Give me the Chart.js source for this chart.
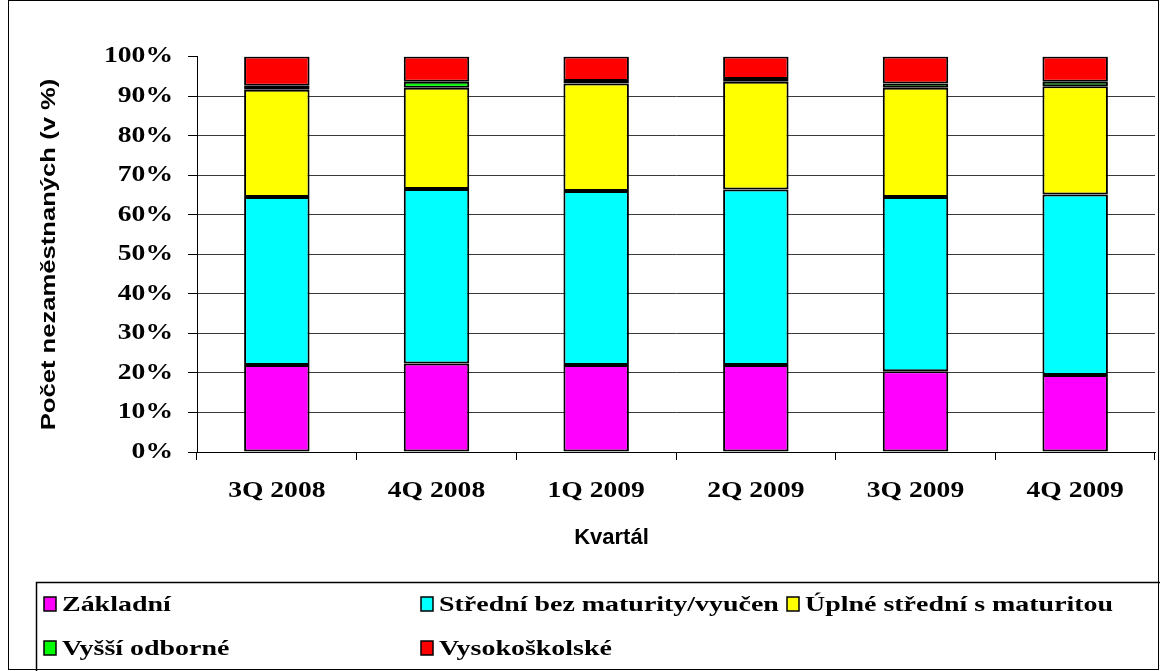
<!DOCTYPE html>
<html><head><meta charset="utf-8">
<script src="https://cdn.jsdelivr.net/npm/chart.js@4.4.1/dist/chart.umd.min.js"></script>
<style>html,body{margin:0;padding:0;background:#fff;overflow:hidden;} #wrap{width:1160px;height:671px;position:relative;}</style>
</head><body><div id="wrap"><canvas id="c" width="1160" height="671"></canvas></div>
<script>
const categories = ['3Q 2008','4Q 2008','1Q 2009','2Q 2009','3Q 2009','4Q 2009'];
const zakladni = [22.0, 22.4, 22.0, 22.0, 20.4, 19.5];
const stredni  = [42.5, 44.1, 44.0, 44.4, 44.1, 45.6];
const uplne    = [27.1, 25.6, 27.2, 27.2, 27.6, 27.4];
const vyssi    = [1.0, 1.5, 0.6, 0.7, 1.1, 1.1];
const vysoko   = [7.4, 6.4, 6.2, 5.7, 6.8, 6.4];
const seriesNames = ['Základní','Střední bez maturity/vyučen','Úplné střední s maturitou','Vyšší odborné','Vysokoškolské'];
const seriesColors = ['#FF00FF','#00FFFF','#FFFF00','#00FF00','#FF0000'];
const yTickValues = [0,10,20,30,40,50,60,70,80,90,100];
const yTitle = 'Počet nezaměstnaných (v %)';
const xTitle = 'Kvartál';

const seriesValues = [zakladni, stredni, uplne, vyssi, vysoko];
const SERIF = "'Liberation Serif','Times New Roman',serif";
const SANS = "'Liberation Sans',Arial,sans-serif";

// horizontal text stretch (the reference renders its text wider than normal)
const canvas = document.getElementById('c');
const ctx2d = canvas.getContext('2d');
let stretch = 1.2;
const origFill = ctx2d.fillText.bind(ctx2d);
const origMeasure = ctx2d.measureText.bind(ctx2d);
ctx2d.fillText = function(t, x, y){
  if (stretch === 1) return origFill(t, x, y);
  this.save(); this.translate(x, y); this.scale(stretch, 1); origFill(t, 0, 0); this.restore();
};
ctx2d.measureText = function(t){
  const m = origMeasure(t);
  return {
    width: m.width * stretch,
    actualBoundingBoxAscent: m.actualBoundingBoxAscent,
    actualBoundingBoxDescent: m.actualBoundingBoxDescent,
    actualBoundingBoxLeft: m.actualBoundingBoxLeft * stretch,
    actualBoundingBoxRight: m.actualBoundingBoxRight * stretch,
    fontBoundingBoxAscent: m.fontBoundingBoxAscent,
    fontBoundingBoxDescent: m.fontBoundingBoxDescent
  };
};

const extrasPlugin = {
  id: 'extras',
  beforeLayout(){ stretch = 1.2; },
  beforeDraw(){ stretch = 1.2; },
  afterDraw(chart){
    const ctx = chart.ctx;
    ctx.save();
    ctx.strokeStyle = '#000'; ctx.lineWidth = 1;
    ctx.strokeRect(8.5, 0.5, 1150, 669);
    // y title
    ctx.save();
    stretch = 1.22;
    ctx.fillStyle = '#000';
    ctx.font = 'bold 21px ' + SANS;
    ctx.translate(55, 254.5);
    ctx.rotate(-Math.PI/2);
    ctx.textAlign = 'center'; ctx.textBaseline = 'alphabetic';
    ctx.fillText(yTitle, 0, 0);
    ctx.restore();
    // x title
    stretch = 1;
    ctx.fillStyle = '#000';
    ctx.font = 'bold 22px ' + SANS;
    ctx.textAlign = 'center'; ctx.textBaseline = 'alphabetic';
    ctx.fillText(xTitle, 611.5, 543.5);
    // legend
    ctx.strokeStyle = '#000'; ctx.lineWidth = 1.5;
    ctx.strokeRect(36.5, 582.5, 1200, 200);
    const cols = [44, 421, 787];
    const rows = [604, 648];
    const slots = [[0,0],[1,0],[2,0],[0,1],[1,1]];
    stretch = 1.27;
    ctx.font = 'bold 22px ' + SERIF;
    ctx.textAlign = 'left'; ctx.textBaseline = 'middle';
    chart.data.datasets.forEach((ds, i) => {
      const [c, r] = slots[i];
      const x = cols[c], y = rows[r];
      ctx.fillStyle = ds.backgroundColor;
      ctx.fillRect(x, y - 7, 12, 14);
      ctx.lineWidth = 1.5; ctx.strokeStyle = '#000';
      ctx.strokeRect(x, y - 7, 12, 14);
      ctx.fillStyle = '#000';
      ctx.fillText(ds.label, x + 18, y + 1);
    });
    stretch = 1.2;
    ctx.restore();
  }
};

const datasets = seriesNames.map((name, i) => ({
  label: name,
  data: seriesValues[i],
  backgroundColor: seriesColors[i],
  borderColor: '#000',
  borderWidth: 2,
  borderSkipped: false,
  barPercentage: 0.41,
  categoryPercentage: 1.0
}));

new Chart(ctx2d, {
  type: 'bar',
  data: { labels: categories, datasets },
  plugins: [extrasPlugin],
  options: {
    responsive: false,
    animation: false,
    devicePixelRatio: 1,
    layout: { padding: { top: 56.5, right: 5, left: 0, bottom: 99 } },
    plugins: { legend: { display: false }, tooltip: { enabled: false } },
    scales: {
      x: {
        stacked: true,
        afterFit(s){ s.height = 120; },
        grid: { drawOnChartArea: false, drawTicks: true, tickLength: 8, tickColor: '#000', offset: true },
        border: { display: true, color: '#000', width: 1 },
        ticks: { color: '#000', font: { family: SERIF, size: 23, weight: 'bold' }, padding: 17, maxRotation: 0, autoSkip: false }
      },
      y: {
        stacked: true,
        min: 0, max: 100,
        afterFit(s){ s.width = 197; },
        afterBuildTicks(s){ s.ticks = yTickValues.map(v => ({ value: v })); },
        grid: {
          color: (c) => (c.tick && c.tick.value === 100) ? 'rgba(0,0,0,0)' : '#3a3a3a',
          lineWidth: 1, tickLength: 9, tickColor: '#000', drawTicks: true
        },
        border: { display: true, color: '#000', width: 1 },
        ticks: { color: '#000', font: { family: SERIF, size: 23, weight: 'bold' }, padding: 15, callback: (v) => v + '%' }
      }
    }
  }
});
</script>
</body></html>
